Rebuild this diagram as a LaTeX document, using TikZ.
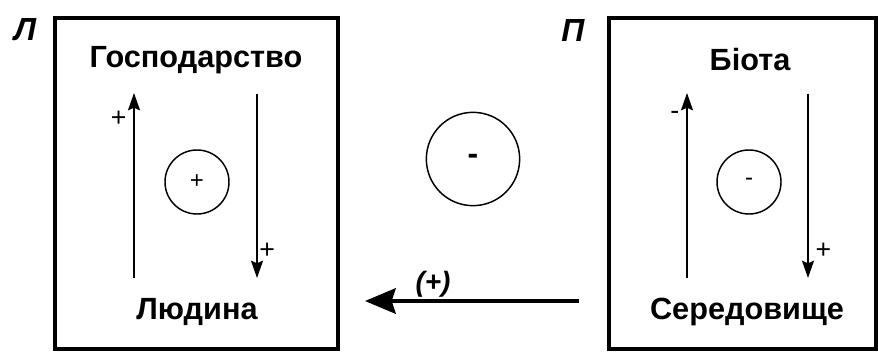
\documentclass[tikz,border=0pt]{standalone}
\usepackage{fontspec}
\setmainfont{Liberation Sans}
\usetikzlibrary{arrows.meta}

\begin{document}
\begin{tikzpicture}[x=0.75pt,y=-0.75pt,
  title/.style={font=\bfseries\fontsize{23}{27}\selectfont, anchor=base},
  corner/.style={font=\bfseries\itshape\fontsize{24}{28}\selectfont},
  sign/.style={font=\fontsize{20}{24}\selectfont, inner sep=1pt},
  loop/.style={circle, draw, line width=1.1pt, minimum size=48pt, inner sep=0pt, font=\fontsize{18}{22}\selectfont},
  flow/.style={line width=1.5pt, -{Stealth[length=13pt, width=9pt, inset=2pt]}}]
\useasboundingbox (0,0) rectangle (878,356);
% Left box: society
\draw[line width=2.6pt] (55,18) rectangle (338,349);
\node[corner] (l) at (25,30) {Л};
\node[title] (gosp) at (196,68) {Господарство};
\node[title] (lud) at (197,319) {Людина};
\coordinate (la1) at (134,278);
\coordinate (la2) at (134,93);
\coordinate (lb1) at (257,94);
\coordinate (lb2) at (257,278);
\draw[flow] (la1) -- (la2) node[sign, pos=0.86, left=4pt] {+};
\draw[flow] (lb1) -- (lb2) node[sign, pos=0.85, right=0pt] {+};
\node[loop] (lc) at (197,182) {+};
% Right box: nature
\draw[line width=2.6pt] (609,18) rectangle (876,349);
\node[corner] (p) at (573,30) {П};
\node[title] (biota) at (750,71) {Біота};
\node[title] (ser) at (747,319) {Середовище};
\coordinate (ra1) at (687,278);
\coordinate (ra2) at (687,93);
\coordinate (rb1) at (808,94);
\coordinate (rb2) at (808,278);
\draw[flow] (ra1) -- (ra2) node[sign, pos=0.88, left=4pt] {-};
\draw[flow] (rb1) -- (rb2) node[sign, pos=0.85, right=4pt] {+};
\node[loop] (rc) at (749,182) {-};
% Between the boxes
\node[loop, minimum size=70pt, font=\bfseries\fontsize{24}{28}\selectfont] (mc) at (473,159) {-};
\coordinate (m1) at (579,301);
\coordinate (m2) at (365,301);
\draw[line width=3pt, -{Stealth[length=23pt, width=19pt, inset=3pt]}] (m1) -- (m2);
\node[corner, font=\bfseries\itshape\fontsize{21}{25}\selectfont] (mp) at (433,284) {(+)};
\end{tikzpicture}
\end{document}
